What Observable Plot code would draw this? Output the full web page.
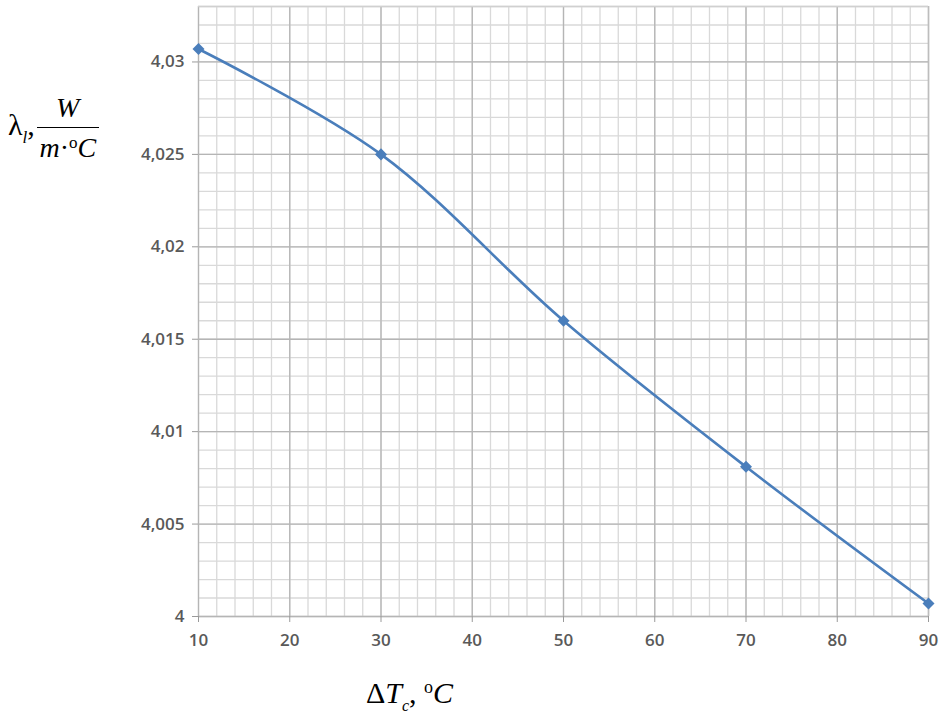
<!DOCTYPE html>
<html>
<head>
<meta charset="utf-8">
<script src="https://cdn.jsdelivr.net/npm/d3@7"></script>
<script src="https://cdn.jsdelivr.net/npm/@observablehq/plot@0.6"></script>
<style>
  html, body { margin: 0; padding: 0; background: #fff; }
  #wrap { position: relative; width: 943px; height: 720px; }
  .lbl { position: absolute; font-family: "Liberation Serif", "Times New Roman", serif; color: #000; }
  .it { font-style: italic; }
</style>
</head>
<body>
<div id="wrap">
  <div id="chart"></div>
  <div class="lbl" id="ylab" style="left:8px; top:94px; font-size:30px; line-height:1; display:flex; align-items:center;">
    <span>λ<sub class="it" style="font-size:17px; vertical-align:-8px;">l</sub>,</span>
    <span style="display:inline-flex; flex-direction:column; align-items:center; margin-left:2px;">
      <span class="it" style="font-size:28px; padding:0 4px;">W</span>
      <span style="border-top:1.5px solid #000; width:62px; margin:5px 0 6px 0;"></span>
      <span style="font-size:28px; white-space:nowrap;"><span class="it">m</span>·<sup style="font-size:17px; vertical-align:9px;">o</sup><span class="it">C</span></span>
    </span>
  </div>
  <div class="lbl" id="xlab" style="left:366px; top:678px; font-size:30px; line-height:1; white-space:nowrap;">
    Δ<span class="it">T</span><sub class="it" style="font-size:16px; vertical-align:-8px;">c</sub>, <sup style="font-size:18px; vertical-align:10px;">o</sup><span class="it">C</span>
  </div>
</div>
<script>
// Data
const deltaT = [10, 30, 50, 70, 90];
const lambda = [4.0307, 4.0250, 4.0160, 4.0081, 4.0007];

// Tick values and labels
const xTicks = [10, 20, 30, 40, 50, 60, 70, 80, 90];
const yTicks = [4, 4.005, 4.01, 4.015, 4.02, 4.025, 4.03];
const yTickLabels = ["4", "4,005", "4,01", "4,015", "4,02", "4,025", "4,03"];
const xMinor = d3.range(10, 91, 2);
const yMinor = d3.range(0, 34).map(i => 4 + i * 0.001);

const data = deltaT.map((x, i) => ({x, y: lambda[i]}));
const yLabelMap = new Map(yTicks.map((t, i) => [t, yTickLabels[i]]));

const chart = Plot.plot({
  width: 943,
  height: 720,
  marginLeft: 198,
  marginRight: 15,
  marginTop: 6,
  marginBottom: 104,
  style: {background: "transparent", fontFamily: "'Open Sans', 'Liberation Sans', sans-serif"},
  x: {domain: [10, 90]},
  y: {domain: [4, 4.033]},
  marks: [
    Plot.ruleX(xMinor, {stroke: "#d9d9d9", strokeWidth: 1.3}),
    Plot.ruleY(yMinor, {stroke: "#d9d9d9", strokeWidth: 1.3}),
    Plot.ruleX(xTicks, {stroke: "#b5b5b5", strokeWidth: 1.3}),
    Plot.ruleY(yTicks, {stroke: "#b5b5b5", strokeWidth: 1.3}),
    Plot.ruleX([90], {stroke: "#bdbdbd", strokeWidth: 1.3}),
    Plot.ruleY([4.033], {stroke: "#d0d0d0", strokeWidth: 1.3}),
    Plot.axisX({ticks: xTicks, tickSize: 6, tickPadding: 11, label: null, stroke: "#9a9a9a",
      fill: "#595959", fontSize: 17, fontWeight: 600, tickFormat: d => String(d)}),
    Plot.axisY({ticks: yTicks, tickSize: 6, tickPadding: 8, label: null, stroke: "#9a9a9a",
      fill: "#595959", fontSize: 17, fontWeight: 600, tickFormat: d => yLabelMap.get(d) ?? String(d).replace(".", ",")}),
    Plot.line(data, {x: "x", y: "y", curve: "catmull-rom", stroke: "#4a7ebb", strokeWidth: 2.6}),
    Plot.dot(data, {x: "x", y: "y", symbol: "square", rotate: 45, r: 4.8, fill: "#4a7ebb", stroke: "none"})
  ]
});
document.getElementById("chart").appendChild(chart);
</script>
</body>
</html>
